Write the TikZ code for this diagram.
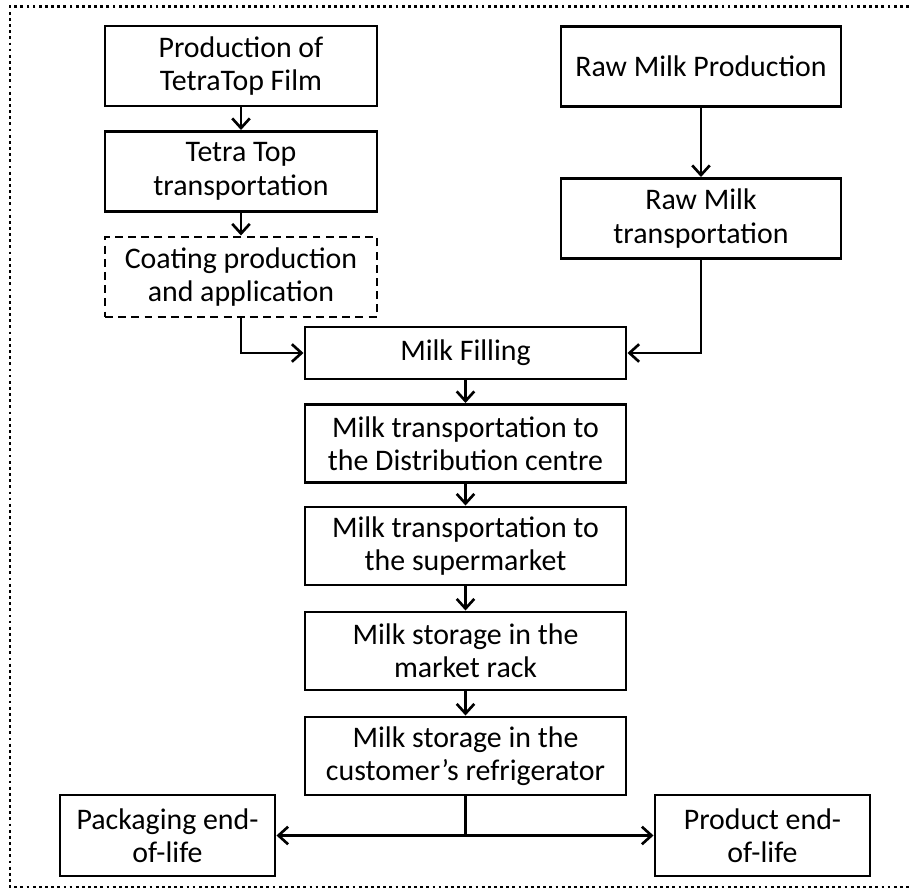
\documentclass[tikz,border=0pt]{standalone}
\usepackage{fontspec}
\setmainfont{Carlito}
\usetikzlibrary{arrows.meta, positioning}

\begin{document}
\begin{tikzpicture}[
        font=\fontsize{17}{19}\selectfont,
        stage/.style={rectangle, draw, line width=1.7pt, align=center, inner sep=0pt, minimum width=5.44cm, minimum height=1.6cm},
        milkstage/.style={stage, minimum width=6.42cm, minimum height=1.56cm},
        optstage/.style={stage, dash pattern=on 4.5pt off 3pt},
        eolstage/.style={stage, minimum width=4.3cm, minimum height=1.62cm},
        flow/.style={-{Straight Barb[length=5.5pt, width=10pt]}, line width=1.5pt}
    ]
        \useasboundingbox (0,0) rectangle (18.2,-17.84);

        % Frame (open on the right)
        \draw[line width=1.6pt, dash pattern=on 1.6pt off 1.9pt] (18.3,-0.13) -- (0.2,-0.13) -- (0.2,-17.74) -- (18.3,-17.74);

        % Packaging chain
        \node[stage] (film) at (4.82,-1.32) {Production of\\TetraTop Film};
        \node[stage] (ttop) at (4.82,-3.43) {Tetra Top\\transportation};
        \node[optstage] (coat) at (4.82,-5.54) {Coating production\\and application};

        % Milk supply chain
        \node[stage, minimum width=5.6cm] (rawprod) at (14.02,-1.33) {Raw Milk Production};
        \node[stage, minimum width=5.6cm] (rawtrans) at (14.02,-4.37) {Raw Milk\\transportation};

        % Main chain
        \node[milkstage, minimum height=1.04cm] (fill) at (9.31,-7.06) {Milk Filling};
        \node[milkstage] (distr) at (9.31,-8.87) {Milk transportation to\\the Distribution centre};
        \node[milkstage] (smarket) at (9.31,-10.92) {Milk transportation to\\the supermarket};
        \node[milkstage] (rack) at (9.31,-13.02) {Milk storage in the\\market rack};
        \node[milkstage] (fridge) at (9.31,-15.12) {Milk storage in the\\customer’s refrigerator};

        % End of life
        \node[eolstage] (packeol) at (3.35,-16.71) {Packaging end-\\of-life};
        \node[eolstage] (prodeol) at (15.25,-16.71) {Product end-\\of-life};

        % Arrows
        \draw[flow] (film) -- (ttop);
        \draw[flow] (ttop) -- (coat);
        \draw[flow] (coat.south) |- (fill.west);
        \draw[flow] (rawprod) -- (rawtrans);
        \draw[flow] (rawtrans.south) |- (fill.east);
        \draw[flow] (fill) -- (distr);
        \draw[flow] (distr) -- (smarket);
        \draw[flow] (smarket) -- (rack);
        \draw[flow] (rack) -- (fridge);

        % Split to end-of-life
        \coordinate (split) at (fridge.south |- packeol.east);
        \draw[line width=1.5pt] (fridge.south) -- (split);
        \draw[flow] (split) -- (packeol.east);
        \draw[flow] (split) -- (prodeol.west);
    \end{tikzpicture}
\end{document}
